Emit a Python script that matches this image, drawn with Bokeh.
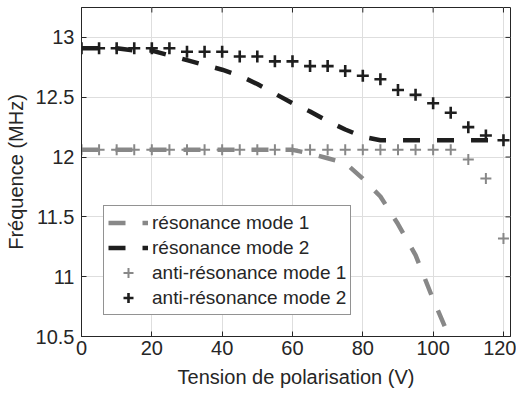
import math
from bokeh.plotting import figure
from bokeh.models import FixedTicker, NumeralTickFormatter, Range1d, Legend, LegendItem
from bokeh.embed import file_html
from bokeh.resources import INLINE

# ---- data ----
tension = [0, 5, 10, 15, 20, 25, 30, 35, 40, 45, 50, 55, 60, 65, 70, 75, 80, 85, 90, 95, 100, 105, 110, 115, 120]

res_mode1_v = [0, 5, 10, 15, 20, 25, 30, 35, 40, 45, 50, 55, 60, 65, 70, 75, 80, 85, 90, 95, 100, 105, 110]
res_mode1 = [12.06, 12.06, 12.06, 12.06, 12.06, 12.06, 12.06, 12.06, 12.06, 12.06, 12.06, 12.06,
             12.06, 12.03, 11.99, 11.95, 11.82, 11.67, 11.44, 11.18, 10.81, 10.47, 10.0]

res_mode2 = [12.91, 12.91, 12.91, 12.89, 12.89, 12.85, 12.81, 12.77, 12.73, 12.68, 12.61, 12.53,
             12.45, 12.38, 12.30, 12.23, 12.17, 12.14, 12.14, 12.14, 12.14, 12.14, 12.14, 12.14, 12.14]

anti_mode1 = [12.06, 12.06, 12.06, 12.06, 12.06, 12.06, 12.06, 12.06, 12.06, 12.06, 12.06, 12.06,
              12.06, 12.06, 12.06, 12.06, 12.06, 12.06, 12.06, 12.06, 12.06, 12.06, 11.98, 11.82, 11.32]

anti_mode2 = [12.91, 12.91, 12.91, 12.91, 12.91, 12.91, 12.88, 12.88, 12.88, 12.84, 12.84, 12.80,
              12.80, 12.76, 12.76, 12.72, 12.68, 12.65, 12.56, 12.52, 12.45, 12.37, 12.25, 12.18, 12.14]

x_ticks = [0, 20, 40, 60, 80, 100, 120]
y_ticks = [10.5, 11, 11.5, 12, 12.5, 13]
x_limits = (0, 122)
y_limits = (10.5, 13.25)

labels = ["résonance mode 1", "résonance mode 2", "anti-résonance mode 1", "anti-résonance mode 2"]

GRAY = "#888888"
BLACK = "#1e1e1e"
TXT = "#262626"
FONT = "Liberation Sans"

p = figure(width=516, height=390, output_backend="svg", toolbar_location=None,
           x_range=Range1d(*x_limits), y_range=Range1d(*y_limits),
           min_border_left=81, min_border_right=6, min_border_top=7, min_border_bottom=52)

p.outline_line_color = TXT
p.outline_line_alpha = 1

r1 = p.line(res_mode1_v, res_mode1, line_color=GRAY, line_width=4.5, line_dash="17 17")
r2 = p.line(tension, res_mode2, line_color=BLACK, line_width=4.5, line_dash="17 17")
r3 = p.scatter(tension, anti_mode1, marker="cross", size=11, line_color=GRAY, line_width=2)
r4 = p.scatter(tension, anti_mode2, marker="cross", size=12, line_color=BLACK, line_width=2.6)

for ax in (p.xaxis[0], p.yaxis[0]):
    ax.major_tick_in = 5
    ax.major_tick_out = 0
    ax.minor_tick_line_color = None
    ax.axis_line_color = TXT
    ax.major_tick_line_color = TXT
    ax.major_label_text_font = FONT
    ax.major_label_text_font_size = "20px"
    ax.major_label_text_color = TXT
    ax.axis_label_text_font = FONT
    ax.axis_label_text_font_size = "20px"
    ax.axis_label_text_font_style = "normal"
    ax.axis_label_text_color = TXT

p.xaxis.ticker = FixedTicker(ticks=x_ticks)
p.yaxis.ticker = FixedTicker(ticks=y_ticks)
p.yaxis.formatter = NumeralTickFormatter(format="0.[0]")
p.xaxis.axis_label = "Tension de polarisation (V)"
p.yaxis.axis_label = "Fréquence (MHz)"
p.xaxis.major_label_standoff = 4
p.yaxis.major_label_standoff = 7
p.xaxis.axis_label_standoff = 8
p.yaxis.axis_label_standoff = 6

# inward ticks on the top and right sides of the box (MATLAB style)
p.ray(x=x_ticks, y=[y_limits[1]] * len(x_ticks), length=5, length_units="screen",
      angle=-math.pi / 2, line_color=TXT, line_width=1)
p.ray(x=[x_limits[1]] * len(y_ticks), y=y_ticks, length=5, length_units="screen",
      angle=math.pi, line_color=TXT, line_width=1)

p.xgrid.ticker = FixedTicker(ticks=x_ticks)
p.ygrid.ticker = FixedTicker(ticks=y_ticks)
p.grid.grid_line_color = "#dedede"
p.grid.grid_line_width = 1

legend = Legend(items=[LegendItem(label=labels[0], renderers=[r1]),
                       LegendItem(label=labels[1], renderers=[r2]),
                       LegendItem(label=labels[2], renderers=[r3]),
                       LegendItem(label=labels[3], renderers=[r4])],
                location=(22, 21))
legend.label_text_font = FONT
legend.label_text_font_size = "19px"
legend.label_text_color = TXT
legend.glyph_width = 40
legend.glyph_height = 25
legend.label_height = 25
legend.spacing = 0
legend.padding = 4
legend.margin = 0
legend.label_standoff = 4
legend.border_line_color = TXT
legend.border_line_width = 1
legend.background_fill_alpha = 1
p.add_layout(legend)

open("out.html", "w").write(file_html(p, INLINE))
